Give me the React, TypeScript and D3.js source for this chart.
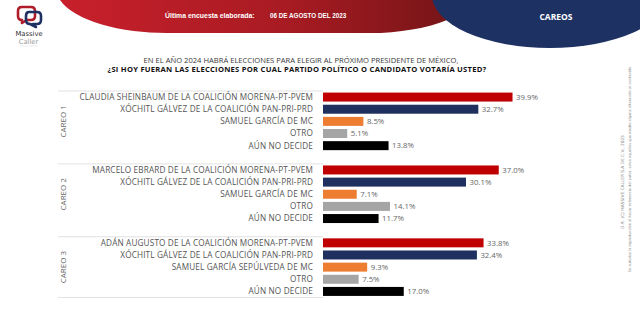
import React from "react";
import * as d3 from "d3";

const groupNames = ["CAREO 1", "CAREO 2", "CAREO 3"];
const careo1Labels = [
  "CLAUDIA SHEINBAUM DE LA COALICIÓN MORENA-PT-PVEM",
  "XÓCHITL GÁLVEZ DE LA COALICIÓN PAN-PRI-PRD",
  "SAMUEL GARCÍA DE MC",
  "OTRO",
  "AÚN NO DECIDE",
];
const careo1Values = [39.9, 32.7, 8.5, 5.1, 13.8];
const careo2Labels = [
  "MARCELO EBRARD DE LA COALICIÓN MORENA-PT-PVEM",
  "XÓCHITL GÁLVEZ DE LA COALICIÓN PAN-PRI-PRD",
  "SAMUEL GARCÍA DE MC",
  "OTRO",
  "AÚN NO DECIDE",
];
const careo2Values = [37.0, 30.1, 7.1, 14.1, 11.7];
const careo3Labels = [
  "ADÁN AUGUSTO DE LA COALICIÓN MORENA-PT-PVEM",
  "XÓCHITL GÁLVEZ DE LA COALICIÓN PAN-PRI-PRD",
  "SAMUEL GARCÍA SEPÚLVEDA DE MC",
  "OTRO",
  "AÚN NO DECIDE",
];
const careo3Values = [33.8, 32.4, 9.3, 7.5, 17.0];
const barColors = ["#c00000", "#1f2f5e", "#ed7d31", "#a5a5a5", "#000000"];

const titleLine1 = "EN EL AÑO 2024 HABRÁ ELECCIONES PARA ELEGIR AL PRÓXIMO PRESIDENTE DE MÉXICO,";
const titleLine2 = "¿SI HOY FUERAN LAS ELECCIONES POR CUAL PARTIDO POLÍTICO O CANDIDATO VOTARÍA USTED?";
const headerLabel = "Última encuesta elaborada:";
const headerDate = "06 DE AGOSTO DEL 2023";
const headerRight = "CAREOS";
const copyright1 = "D.R. (C) MASSIVE CALLER S.A DE C.V., 2023";
const copyright2 = "Se autoriza la reproducción al hacer referencia del autor, salvo aquellas que medie alguna alteración al contenido.";

const W = 640;
const H = 311;

export default function App() {
  const allLabels = [careo1Labels, careo2Labels, careo3Labels];
  const allValues = [careo1Values, careo2Values, careo3Values];
  type Row = { key: string; label: string; value: number; color: string; group: number };
  const rows: Row[] = [];
  const slots: string[] = [];
  allLabels.forEach((labs, g) => {
    labs.forEach((l, i) => {
      const key = `g${g}-${i}`;
      slots.push(key);
      rows.push({ key, label: l, value: allValues[g][i], color: barColors[i], group: g });
    });
    if (g < allLabels.length - 1) slots.push(`gap${g}`);
  });

  const pInner = 0.26;
  const y = d3.scaleBand<string>().domain(slots).range([91, 297.5]).paddingInner(pInner).paddingOuter(pInner / 2);
  const step = y.step();
  const bw = y.bandwidth();
  const x = d3.scaleLinear().domain([0, 40]).range([323, 513]);

  const slotTop = (k: string) => (y(k) as number) - (step * pInner) / 2;
  const groupLines = [slotTop("g0-0"), slotTop("g1-0"), slotTop("g2-0"), 297.5];

  const labelFont = "'Open Sans', sans-serif";

  return (
    <div style={{ position: "fixed", left: 0, top: 0 }}>
      <svg width={W} height={H} style={{ display: "block", background: "#fff" }}>
        <defs>
          <linearGradient id="redgrad" x1="0" x2="1" y1="0" y2="0">
            <stop offset="0%" stopColor="#c9202c" />
            <stop offset="55%" stopColor="#a81b22" />
            <stop offset="100%" stopColor="#6e1416" />
          </linearGradient>
        </defs>
        {/* header red shape */}
        <path
          d="M 50 -20 L 60 0 A 110 45 0 0 0 170 33 L 370 33 A 110 45 0 0 0 480 -12 L 480 -20 Z"
          fill="url(#redgrad)"
        />
        {/* header blue ellipse */}
        <ellipse cx={550} cy={-5} rx={118} ry={53} fill="#1e3163" />
        <text x={165} y={18} fill="#fff" fontFamily="'Liberation Sans', Arial, sans-serif" fontWeight="bold" fontSize={6.9}>
          {headerLabel}
        </text>
        <text x={270} y={18} fill="#fff" fontFamily="'Liberation Sans', Arial, sans-serif" fontWeight="bold" fontSize={6.3}>
          {headerDate}
        </text>
        <text x={556} y={20} fill="#fff" textAnchor="middle" fontFamily="'Open Sans', sans-serif" fontWeight="bold" fontSize={8.5}>
          {headerRight}
        </text>

        {/* logo */}
        <g fill="none" strokeWidth={2.6} strokeLinejoin="round">
          <path d="M 22 7 L 31 7 Q 35 7 35 11 L 35 16 Q 35 20 31 20 L 27 20 L 22 23 L 22 20 Q 18 20 18 16 L 18 11 Q 18 7 22 7 Z" stroke="#b01c2a" />
          <path d="M 29 12 L 37 12 Q 41 12 41 16 L 41 20 Q 41 24 37 24 L 33 24 L 36 27 L 30 24 Q 26 24 26 20 L 26 16 Q 26 12 29 12 Z" stroke="#1f3163" />
        </g>
        <text x={29} y={36} textAnchor="middle" fill="#333" fontFamily="'DejaVu Sans', sans-serif" fontSize={6.8}>
          Massive
        </text>
        <text x={28.5} y={43.5} textAnchor="middle" fill="#9a9a9a" fontFamily="'DejaVu Sans', sans-serif" fontSize={6.8}>
          Caller
        </text>
        <line x1={20} x2={38} y1={46} y2={46} stroke="#ddd" strokeWidth={0.6} />

        {/* title */}
        <text x={301} y={63} textAnchor="middle" fill="#3a3a3a" fontFamily={labelFont} fontSize={7.6}>
          {titleLine1}
        </text>
        <text x={297} y={72} textAnchor="middle" fill="#111" fontFamily={labelFont} fontWeight="bold" fontSize={7.6} letterSpacing={0.25}>
          {titleLine2}
        </text>

        {/* group separator lines */}
        {groupLines.map((gy, i) => (
          <line key={i} x1={58} x2={323} y1={gy} y2={gy} stroke="#d9d9d9" strokeWidth={0.8} />
        ))}

        {/* group labels */}
        {groupNames.map((g, i) => {
          const mid = (y(`g${i}-2`) as number) + bw / 2;
          return (
            <text
              key={g}
              transform={`translate(${66},${mid}) rotate(-90)`}
              textAnchor="middle"
              fill="#666"
              fontFamily={labelFont}
              fontSize={8}
            >
              {g}
            </text>
          );
        })}

        {/* bars */}
        {rows.map((r) => {
          const yy = y(r.key) as number;
          return (
            <g key={r.key}>
              <text
                x={313}
                y={yy + bw / 2}
                dy="0.35em"
                textAnchor="end"
                fill="#555"
                fontFamily={labelFont}
                fontSize={8.2}
                letterSpacing={0.15}
              >
                {r.label}
              </text>
              <rect x={x(0)} y={yy} width={x(r.value) - x(0)} height={bw} fill={r.color} />
              <text
                x={x(r.value) + 3.5}
                y={yy + bw / 2}
                dy="0.35em"
                fill="#666"
                fontFamily={labelFont}
                fontSize={7.8}
              >
                {`${r.value.toFixed(1)}%`}
              </text>
            </g>
          );
        })}

        {/* copyright vertical */}
        <text transform="translate(624,182) rotate(-90)" textAnchor="middle" fill="#8a8a8a" fontFamily="'DejaVu Sans', sans-serif" fontSize={4.3}>
          {copyright1}
        </text>
        <text transform="translate(631,169) rotate(-90)" textAnchor="middle" fill="#8a8a8a" fontFamily="'DejaVu Sans', sans-serif" fontSize={3.6}>
          {copyright2}
        </text>
      </svg>
    </div>
  );
}
